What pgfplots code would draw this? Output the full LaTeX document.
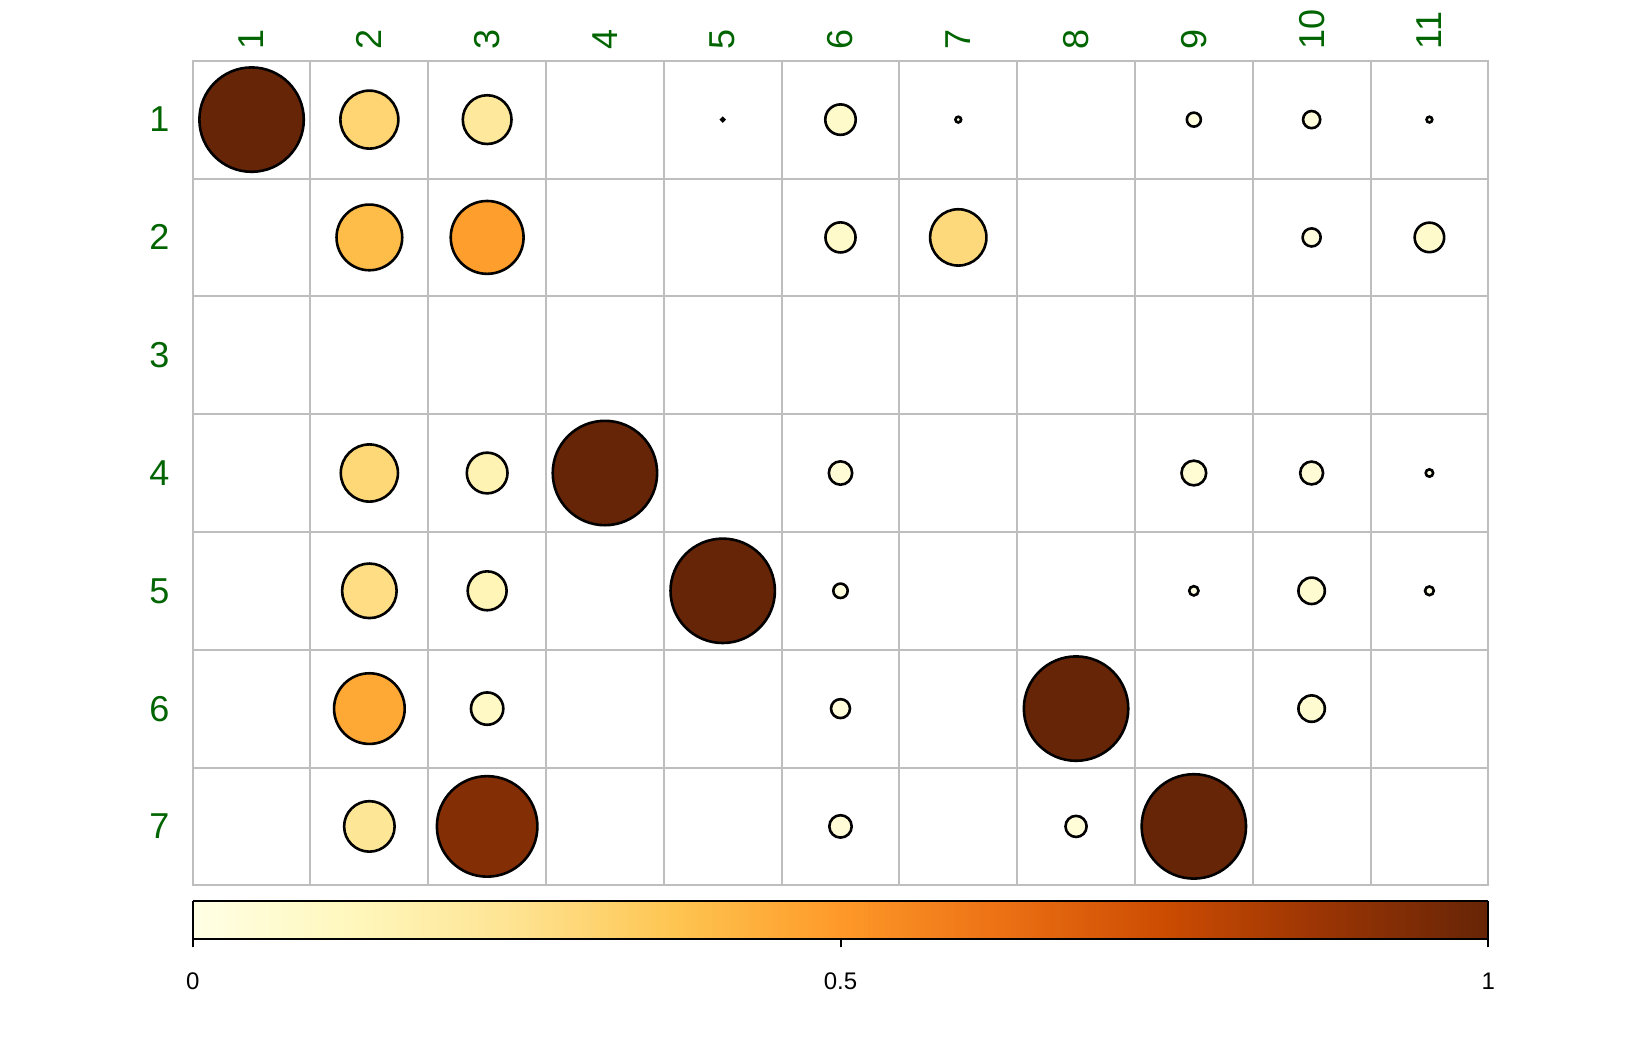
\documentclass[border=0pt]{standalone}
\usepackage{fontspec}
\setmainfont{Liberation Sans}
\usepackage{pgfplots}
\pgfplotsset{compat=1.18}
\usepackage{pgfplotstable}
\definecolor{labgreen}{HTML}{006400}
\definecolor{gridgray}{HTML}{BEBEBE}
\pgfplotsset{colormap={ylorbr}{rgb255=(255,255,229) rgb255=(255,247,188) rgb255=(254,227,145) rgb255=(254,196,79) rgb255=(254,153,41) rgb255=(236,112,20) rgb255=(204,76,2) rgb255=(153,52,4) rgb255=(102,37,6)}}
\pgfplotstableread{
x y v
1 1 1.000
2 1 0.308
3 1 0.218
5 1 0.0008
6 1 0.085
7 1 0.003
9 1 0.018
10 1 0.027
11 1 0.003
2 2 0.396
3 2 0.487
6 2 0.083
7 2 0.291
10 2 0.030
11 2 0.080
2 4 0.300
3 4 0.152
4 4 1.000
6 4 0.050
9 4 0.056
10 4 0.048
11 4 0.005
2 5 0.273
3 5 0.139
5 5 1.000
6 5 0.019
9 5 0.008
10 5 0.064
11 5 0.007
2 6 0.458
3 6 0.096
6 6 0.033
8 6 1.000
10 6 0.064
2 7 0.234
3 7 0.927
6 7 0.046
8 7 0.041
9 7 1.000
}\corrdata
\begin{document}
\begin{tikzpicture}
\useasboundingbox (0,0) rectangle (825pt,525pt);
\begin{axis}[
  at={(96.35pt,82.35pt)}, anchor=south west,
  width=647.8pt, height=412.3pt, scale only axis,
  xmin=0.5, xmax=11.5, ymin=0.5, ymax=7.5, y dir=reverse,
  xtick={1,2,3,4,5,6,7,8,9,10,11},
  xticklabels={1,2,3,4,5,6,7,8,9,10,11},
  ytick={1,2,3,4,5,6,7},
  yticklabels={1,2,3,4,5,6,7},
  xticklabel pos=upper,
  minor xtick={0.5,1.5,2.5,3.5,4.5,5.5,6.5,7.5,8.5,9.5,10.5,11.5},
  minor ytick={0.5,1.5,2.5,3.5,4.5,5.5,6.5,7.5},
  xminorgrids, yminorgrids,
  minor grid style={draw=gridgray, line width=1pt},
  axis line style={draw=gridgray, line width=1pt},
  major tick length=0pt, minor tick length=0pt,
  tick style={draw=none},
  /pgf/number format/assume math mode=true,
  xticklabel style={font=\fontsize{18}{20}\selectfont, text=labgreen, rotate=90, anchor=west, inner sep=0pt, inner xsep=5.5pt},
  yticklabel style={font=\fontsize{18}{20}\selectfont, text=labgreen, anchor=east, inner sep=0pt, inner xsep=11.4pt},
  colormap name=ylorbr,
  point meta min=0, point meta max=1,
  colorbar horizontal,
  colorbar sampled,
  colorbar style={
    at={(parent axis.south west)}, anchor=north west, yshift=0.9pt,
    width=647.8pt, height=19pt, scale only axis,
    samples=300,
    xtick={0,0.5,1}, xticklabels={0,0.5,1},
    xtick pos=bottom, xticklabel pos=lower,
    tick align=outside, major tick length=4.4pt,
    tick style={draw=black, line width=1pt},
    axis line style={draw=black, line width=1pt},
    axis on top,
    /pgf/number format/assume math mode=true,
    xticklabel style={font=\fontsize{12}{14}\selectfont, text=black, anchor=center, inner sep=0pt, yshift=-17pt},
  },
]
\addplot[scatter, only marks, mark=*, point meta=\thisrow{v},
  scatter/use mapped color={draw=black, fill=mapped color},
  visualization depends on={26.1*sqrt(\thisrow{v}) \as \rad},
  scatter/@pre marker code/.append style={/tikz/mark size=\rad},
  mark options={line width=1.3pt}] table[x=x,y=y] {\corrdata};
\end{axis}
\end{tikzpicture}
\end{document}
